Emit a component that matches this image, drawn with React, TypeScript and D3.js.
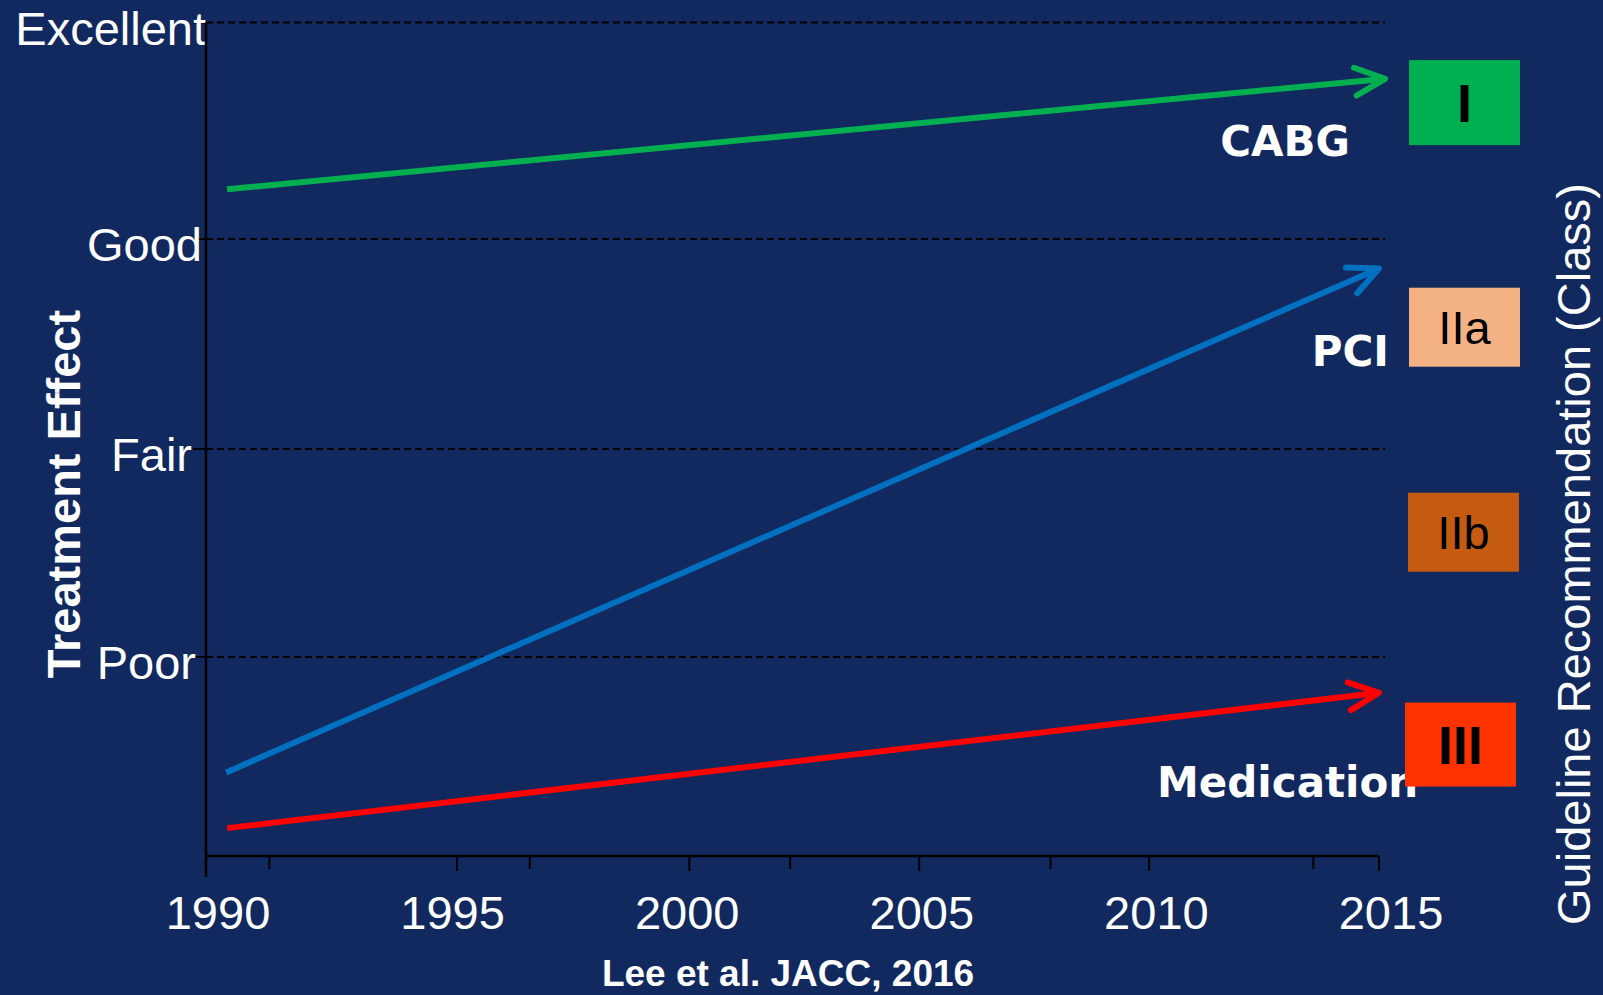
import React from 'react';
import * as d3 from 'd3';

// effect levels on the y axis (0 = x axis baseline)
const effectLabels = ['Poor', 'Fair', 'Good', 'Excellent'];
const effectValues = [1, 2, 3, 4];

// x axis
const yearLabels = [1990, 1995, 2000, 2005, 2010, 2015];
const majorTickYears = [1995.35, 2000.3, 2005.2, 2010.1, 2015];
const minorTickYears = [1991.35, 1996.9, 2002.45, 2008.0, 2013.6];

// treatment trend arrows
const seriesNames = ['CABG', 'PCI', 'Medication'];
const seriesStartYear = [1990.45, 1990.43, 1990.45];
const seriesEndYear = [2015.13, 2015.0, 2015.0];
const seriesStartEffect = [3.23, 0.42, 0.14];
const seriesEndEffect = [3.74, 2.86, 0.82];

// guideline classes (box centre on the effect scale)
const classNames = ['I', 'IIa', 'IIb', 'III'];
const classEffect = [3.63, 2.58, 1.6, 0.56];

const W = 1603;
const H = 995;
const BG = '#11295e';
const FONT = '"Liberation Sans", Arial, sans-serif';

const seriesColor: Record<string, string> = {
  CABG: '#00b050',
  PCI: '#0070c0',
  Medication: '#ff0000',
};
const classColor: Record<string, string> = {
  I: '#00b050',
  IIa: '#f4b183',
  IIb: '#c55a11',
  III: '#ff3300',
};

const App: React.FC = () => {
  const x = d3.scaleLinear().domain([1990, 2015]).range([206, 1379]);
  const y = d3.scaleLinear().domain([0, 1, 2, 3, 4]).range([856, 657, 449, 239, 22.5]);

  const axisX = x(1990);
  const gridEnd = 1385;
  const line = d3.line<[number, number]>();

  const arrows = seriesNames.map((name, i) => {
    const p0: [number, number] = [x(seriesStartYear[i]), y(seriesStartEffect[i])];
    const p1: [number, number] = [x(seriesEndYear[i]), y(seriesEndEffect[i])];
    const ang = Math.atan2(p0[1] - p1[1], p0[0] - p1[0]);
    const len = 33;
    const spread = (25 * Math.PI) / 180;
    const a1: [number, number] = [p1[0] + len * Math.cos(ang + spread), p1[1] + len * Math.sin(ang + spread)];
    const a2: [number, number] = [p1[0] + len * Math.cos(ang - spread), p1[1] + len * Math.sin(ang - spread)];
    return { name, shaft: line([p0, p1]), head: line([a1, p1, a2]) };
  });

  // y label right edges (they are not quite aligned in the original)
  const yLabelEnd: Record<string, number> = { Excellent: 206, Good: 202, Fair: 192, Poor: 196 };

  // series label placement
  const labelPos: Record<string, { x: number; y: number; anchor: string }> = {
    CABG: { x: 1350, y: 156, anchor: 'end' },
    PCI: { x: 1389, y: 366, anchor: 'end' },
    Medication: { x: 1157, y: 797, anchor: 'start' },
  };
  const boxLeft: Record<string, number> = { I: 1409, IIa: 1409, IIb: 1408, III: 1405 };
  const boxH: Record<string, number> = { I: 85, IIa: 79, IIb: 79, III: 84 };
  const boxW = 111;

  return (
    <svg
      width={W}
      height={H}
      style={{ position: 'absolute', left: 0, top: 0, display: 'block' }}
      fontFamily={FONT}
    >
      <rect width={W} height={H} fill={BG} />

      {/* gridlines + y labels */}
      {effectValues.map((v, i) => (
        <g key={v}>
          <line x1={axisX} x2={gridEnd} y1={y(v)} y2={y(v)} stroke="#000" strokeWidth={2} strokeDasharray="7,4" />
          <line x1={axisX - 13} x2={axisX} y1={y(v)} y2={y(v)} stroke="#000" strokeWidth={2} />
          <text x={yLabelEnd[effectLabels[i]]} y={y(v) + 22} textAnchor="end" fill="#fff" fontSize={47}>
            {effectLabels[i]}
          </text>
        </g>
      ))}

      {/* axes */}
      <line x1={axisX} x2={axisX} y1={y(4)} y2={877} stroke="#000" strokeWidth={2.5} />
      <line x1={axisX} x2={x(2015)} y1={y(0)} y2={y(0)} stroke="#000" strokeWidth={2.5} />
      {majorTickYears.map(t => (
        <line key={'M' + t} x1={x(t)} x2={x(t)} y1={y(0)} y2={y(0) + 15} stroke="#000" strokeWidth={2} />
      ))}
      {minorTickYears.map(t => (
        <line key={'m' + t} x1={x(t)} x2={x(t)} y1={y(0)} y2={y(0) + 13} stroke="#000" strokeWidth={2} />
      ))}
      {yearLabels.map(t => (
        <text key={t} x={x(t) + 12} y={929} textAnchor="middle" fill="#fff" fontSize={47}>
          {t}
        </text>
      ))}

      {/* arrows */}
      {arrows.map(a => (
        <g key={a.name} stroke={seriesColor[a.name]} strokeWidth={6} fill="none">
          <path d={a.shaft ?? ''} strokeLinecap="butt" />
          <path d={a.head ?? ''} strokeLinecap="round" strokeLinejoin="round" />
        </g>
      ))}

      {/* series labels */}
      {seriesNames.map(n => (
        <text
          key={n}
          x={labelPos[n].x}
          y={labelPos[n].y}
          textAnchor={labelPos[n].anchor}
          fill="#fff"
          fontSize={42}
          fontWeight="bold"
          fontFamily='"DejaVu Sans", sans-serif'
        >
          {n}
        </text>
      ))}

      {/* class boxes */}
      {classNames.map((c, i) => {
        const cy = y(classEffect[i]);
        const h = boxH[c];
        const bold = c === 'I' || c === 'III';
        const fs = bold ? 54 : 47;
        return (
          <g key={c}>
            <rect x={boxLeft[c]} y={cy - h / 2} width={boxW} height={h} fill={classColor[c]} />
            <text
              x={boxLeft[c] + boxW / 2}
              y={cy + fs * 0.358}
              textAnchor="middle"
              fill="#000"
              fontSize={fs}
              fontWeight={bold ? 'bold' : 'normal'}
            >
              {c}
            </text>
          </g>
        );
      })}

      {/* axis titles */}
      <text
        transform="translate(80,494) rotate(-90)"
        textAnchor="middle"
        fill="#fff"
        fontSize={47}
        fontWeight="bold"
      >
        Treatment Effect
      </text>
      <text
        transform="translate(1590,554) rotate(-90)"
        textAnchor="middle"
        fill="#fff"
        fontSize={47}
      >
        Guideline Recommendation (Class)
      </text>

      <text x={788} y={986} textAnchor="middle" fill="#fff" fontSize={37} fontWeight="bold">
        Lee et al. JACC, 2016
      </text>
    </svg>
  );
};

export default App;
